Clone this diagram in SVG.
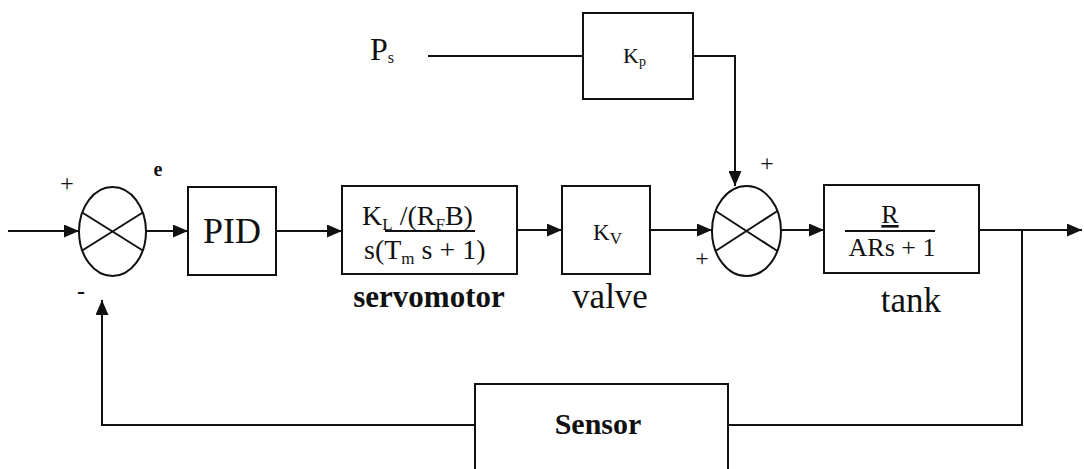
<svg xmlns="http://www.w3.org/2000/svg" width="1084" height="469" viewBox="0 0 1084 469">
<style>
.box{fill:#fff;stroke:#111;stroke-width:2}
.ln{fill:none;stroke:#111;stroke-width:2}
text{font-family:'Liberation Serif','DejaVu Serif',serif;fill:#111}
.b{font-weight:bold}
.m{text-anchor:middle}
</style>
<defs>
<marker id="ah" markerUnits="userSpaceOnUse" markerWidth="15" markerHeight="13" refX="15" refY="6.5" orient="auto">
<path d="M0,0 L15,6.5 L0,13 z" fill="#111"/>
</marker>
</defs>
<rect width="1084" height="469" fill="#fff"/>
<g id="connectors">
<path class="ln" d="M8,231 H79" marker-end="url(#ah)"/>
<path class="ln" d="M146,231 H188" marker-end="url(#ah)"/>
<path class="ln" d="M276,231 H342" marker-end="url(#ah)"/>
<path class="ln" d="M517,230 H562" marker-end="url(#ah)"/>
<path class="ln" d="M650,230 H712" marker-end="url(#ah)"/>
<path class="ln" d="M781,230 H824" marker-end="url(#ah)"/>
<path class="ln" d="M979,230 H1082" marker-end="url(#ah)"/>
<path class="ln" d="M1022,230 V425 H728"/>
<path class="ln" d="M475,425 H102 V300" marker-end="url(#ah)"/>
<path class="ln" d="M428,56 H583"/>
<path class="ln" d="M693,56 H735 V186" marker-end="url(#ah)"/>
</g>
<g id="sum1" font-family="Liberation Serif, DejaVu Serif, serif">
<ellipse class="box" cx="112.5" cy="231.5" rx="33.5" ry="44.5"/>
<path class="ln" d="M82.2,212.5 L142.8,250.5 M82.2,250.5 L142.8,212.5"/>
<text class="m" x="67" y="191" font-size="24">+</text>
<text class="m b" x="158" y="176" font-size="20">e</text>
<text class="m b" x="81" y="299" font-size="24">-</text>
</g>
<g id="pid" font-family="Liberation Serif, DejaVu Serif, serif">
<rect class="box" x="188" y="187" width="88" height="88"/>
<text class="m" x="232" y="243" font-size="36">PID</text>
</g>
<g id="servomotor" font-family="Liberation Serif, DejaVu Serif, serif">
<rect class="box" x="342" y="186" width="175" height="88"/>
<text x="362" y="225" font-size="28">K<tspan font-size="17" dy="5">L</tspan><tspan dy="-5"> /(R</tspan><tspan font-size="17" dy="5">F</tspan><tspan dy="-5">B)</tspan></text>
<line class="ln" x1="385" y1="231" x2="475" y2="231"/>
<text x="364" y="259" font-size="28">s(T<tspan font-size="17" dy="5">m</tspan><tspan dy="-5"> s + 1)</tspan></text>
<text class="m b" x="429" y="307" font-size="31">servomotor</text>
</g>
<g id="valve" font-family="Liberation Serif, DejaVu Serif, serif">
<rect class="box" x="562" y="186" width="88" height="88"/>
<text x="593" y="240" font-size="23">K<tspan font-size="17" dy="4">V</tspan></text>
<text class="m" x="610" y="308" font-size="35">valve</text>
</g>
<g id="sum2" font-family="Liberation Serif, DejaVu Serif, serif">
<ellipse class="box" cx="746.5" cy="231" rx="34.5" ry="45"/>
<path class="ln" d="M715.6,211 L777.4,251 M715.6,251 L777.4,211"/>
<text class="m" x="767" y="171" font-size="24">+</text>
<text class="m" x="702" y="266" font-size="24">+</text>
</g>
<g id="kp" font-family="Liberation Serif, DejaVu Serif, serif">
<rect class="box" x="583" y="13" width="110" height="86"/>
<text x="623" y="63" font-size="22">K<tspan font-size="14" dy="3">p</tspan></text>
</g>
<g id="ps" font-family="Liberation Serif, DejaVu Serif, serif">
<text x="370" y="60" font-size="32">P<tspan font-size="16" dy="3">s</tspan></text>
</g>
<g id="tank" font-family="Liberation Serif, DejaVu Serif, serif">
<rect class="box" x="824" y="185" width="155" height="88"/>
<text class="m" x="890" y="223" font-size="26" text-decoration="underline">R</text>
<line class="ln" x1="845" y1="231" x2="935" y2="231"/>
<text class="m" x="892" y="256" font-size="26">ARs + 1</text>
<text class="m" x="911" y="312" font-size="35">tank</text>
</g>
<g id="sensor" font-family="Liberation Serif, DejaVu Serif, serif">
<rect class="box" x="475" y="384" width="253" height="95"/>
<text class="m b" x="598" y="434" font-size="30">Sensor</text>
</g>
</svg>
